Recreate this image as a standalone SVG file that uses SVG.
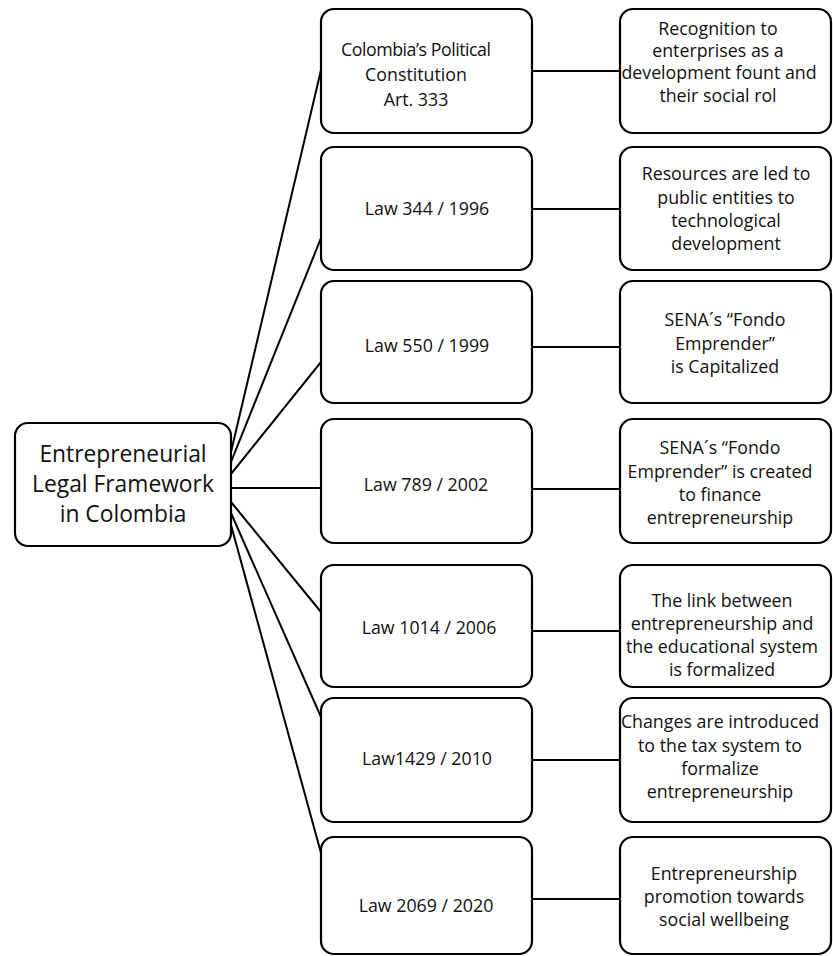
<svg xmlns="http://www.w3.org/2000/svg" width="833" height="956" viewBox="0 0 833 956">
<style>
.box{fill:#fff;stroke:#000;stroke-width:2.2}
.ln{stroke:#000;stroke-width:2;fill:none}
text{font-family:"Open Sans","Noto Sans","Liberation Sans",sans-serif;fill:#111;text-anchor:middle}
.m{font-size:17.8px}
.r{font-size:17.8px}
.root{font-size:22.8px}
</style>
<rect width="833" height="956" fill="#fff"/>
<g id="connectors">
<path class="ln" d="M231 452L321 70M231 462L321 238M231 474L321 362M231 488L321 488M231 502L321 612M231 513L321 717M231 525L321 853"/>
<path class="ln" d="M532 71H620M532 209H620M532 347H620M532 489H620M532 631H620M532 760H620M532 899H620"/>
</g>
<g id="root"><rect class="box" x="15" y="423" width="216" height="123" rx="13"/>
<text class="root" x="123" y="462">Entrepreneurial</text><text class="root" x="123" y="492">Legal Framework</text><text class="root" x="123" y="522">in Colombia</text></g>
<g id="n1"><rect class="box" x="321" y="9" width="211" height="124" rx="13"/>
<text class="m" x="416" y="56" textLength="150">Colombia’s Political</text><text class="m" x="416" y="81">Constitution</text><text class="m" x="416" y="106">Art. 333</text></g>
<g id="n2"><rect class="box" x="321" y="147" width="211" height="123" rx="13"/>
<text class="m" x="427" y="215">Law 344 / 1996</text></g>
<g id="n3"><rect class="box" x="321" y="281" width="211" height="122" rx="13"/>
<text class="m" x="427" y="352">Law 550 / 1999</text></g>
<g id="n4"><rect class="box" x="321" y="419" width="211" height="124" rx="13"/>
<text class="m" x="426" y="491">Law 789 / 2002</text></g>
<g id="n5"><rect class="box" x="321" y="565" width="211" height="122" rx="13"/>
<text class="m" x="429" y="634">Law 1014 / 2006</text></g>
<g id="n6"><rect class="box" x="321" y="698" width="211" height="124" rx="13"/>
<text class="m" x="427" y="765">Law1429 / 2010</text></g>
<g id="n7"><rect class="box" x="321" y="837" width="211" height="117" rx="13"/>
<text class="m" x="426" y="912">Law 2069 / 2020</text></g>
<g id="r1"><rect class="box" x="620" y="9" width="211" height="124" rx="13"/>
<text class="r" x="718" y="35">Recognition to</text><text class="r" x="718" y="57">enterprises as a</text><text class="r" x="719" y="79">development fount and</text><text class="r" x="718" y="102">their social rol</text></g>
<g id="r2"><rect class="box" x="620" y="147" width="211" height="123" rx="13"/>
<text class="r" x="726" y="180">Resources are led to</text><text class="r" x="726" y="204">public entities to</text><text class="r" x="726" y="227">technological</text><text class="r" x="726" y="250">development</text></g>
<g id="r3"><rect class="box" x="620" y="281" width="211" height="122" rx="13"/>
<text class="r" x="725" y="326">SENA´s “Fondo</text><text class="r" x="725" y="350">Emprender”</text><text class="r" x="725" y="373">is Capitalized</text></g>
<g id="r4"><rect class="box" x="620" y="419" width="211" height="124" rx="13"/>
<text class="r" x="720" y="454">SENA´s  “Fondo</text><text class="r" x="720" y="478">Emprender” is created</text><text class="r" x="720" y="501">to finance</text><text class="r" x="720" y="524">entrepreneurship</text></g>
<g id="r5"><rect class="box" x="620" y="565" width="211" height="122" rx="13"/>
<text class="r" x="722" y="607">The link between</text><text class="r" x="722" y="630">entrepreneurship and</text><text class="r" x="722" y="653">the educational system</text><text class="r" x="722" y="676">is formalized</text></g>
<g id="r6"><rect class="box" x="620" y="698" width="211" height="124" rx="13"/>
<text class="r" x="720" y="728">Changes are introduced</text><text class="r" x="720" y="752">to the tax system to</text><text class="r" x="720" y="775">formalize</text><text class="r" x="720" y="798">entrepreneurship</text></g>
<g id="r7"><rect class="box" x="620" y="837" width="211" height="117" rx="13"/>
<text class="r" x="724" y="880">Entrepreneurship</text><text class="r" x="724" y="903">promotion towards</text><text class="r" x="724" y="926">social wellbeing</text></g>
</svg>
